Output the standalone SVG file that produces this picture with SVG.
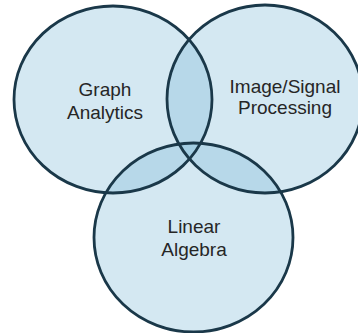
<svg xmlns="http://www.w3.org/2000/svg" xmlns:xlink="http://www.w3.org/1999/xlink" width="358" height="333" viewBox="0 0 358 333">
<style>
.fill{fill:#7db9d8;fill-opacity:0.33;stroke:none}
.line{fill:none;stroke:#1a3849;stroke-width:2.8}
.lbl{font-family:"Liberation Sans",Arial,sans-serif;font-size:19px;fill:#262626;text-anchor:middle}
</style>
<defs>
<ellipse id="cL" cx="113" cy="99.5" rx="99" ry="93.5"/>
<ellipse id="cR" cx="265" cy="99" rx="98" ry="94"/>
<ellipse id="cB" cx="193.5" cy="237.5" rx="99.5" ry="94.5"/>
</defs>
<rect width="358" height="333" fill="#ffffff"/>
<g id="graph-analytics">
<use xlink:href="#cL" class="fill"/>
<text class="lbl" x="105" y="96">Graph</text>
<text class="lbl" x="105" y="119">Analytics</text>
</g>
<g id="image-signal-processing">
<use xlink:href="#cR" class="fill"/>
<text class="lbl" x="285" y="93">Image/Signal</text>
<text class="lbl" x="285" y="114">Processing</text>
</g>
<g id="linear-algebra">
<use xlink:href="#cB" class="fill"/>
<text class="lbl" x="194" y="233">Linear</text>
<text class="lbl" x="194" y="256">Algebra</text>
</g>
<g id="connectors">
<use xlink:href="#cL" class="line"/>
<use xlink:href="#cR" class="line"/>
<use xlink:href="#cB" class="line"/>
</g>
</svg>
